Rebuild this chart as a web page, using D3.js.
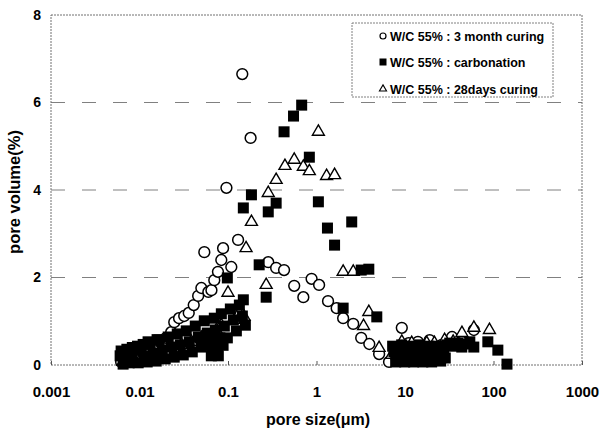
<!DOCTYPE html>
<html>
<head>
<meta charset="utf-8">
<script src="https://cdn.jsdelivr.net/npm/d3@7"></script>
<style>
  html, body { margin: 0; padding: 0; background: #fff; }
  svg { display: block; font-family: "Liberation Sans", Arial, sans-serif; }
</style>
</head>
<body>
<svg id="chart" width="602" height="434"></svg>
<script>
// Differential pore volume (%) against pore size (µm), one [size, volume] pair per reading
const curing3Month = [
  [0.0062, 0.07], [0.0071, 0.11], [0.0081, 0.16], [0.0094, 0.21], [0.011, 0.27],
  [0.0128, 0.34], [0.015, 0.41], [0.0176, 0.50], [0.020, 0.62], [0.0228, 0.75],
  [0.0247, 0.98], [0.028, 1.07], [0.032, 1.12], [0.036, 1.19], [0.041, 1.37],
  [0.046, 1.58], [0.050, 1.76], [0.054, 2.58], [0.060, 1.67], [0.065, 1.71],
  [0.070, 1.94], [0.077, 2.13], [0.084, 2.40], [0.088, 2.67], [0.096, 4.05],
  [0.109, 2.24], [0.130, 2.86], [0.145, 6.65], [0.180, 5.19], [0.285, 2.35],
  [0.35, 2.22], [0.43, 2.17], [0.56, 1.81], [0.71, 1.55], [0.88, 1.97],
  [1.07, 1.83], [1.35, 1.46], [1.69, 1.30], [2.0, 1.07], [2.6, 0.94],
  [3.2, 0.62], [3.95, 0.48], [5.1, 0.25], [6.6, 0.07], [8.0, 0.16],
  [9.2, 0.85], [11, 0.50], [12.5, 0.30], [14, 0.53], [19, 0.57],
  [23, 0.34], [26, 0.46], [34, 0.64], [44, 0.53], [60, 0.80]
];

const carbonation = [
  [0.00604, 0.21], [0.0062, 0.32], [0.00653, 0.02], [0.00707, 0.25], [0.0072, 0.36],
  [0.00764, 0.05], [0.00826, 0.16], [0.0083, 0.40], [0.00893, 0.34], [0.0095, 0.43],
  [0.00966, 0.05], [0.01044, 0.41], [0.0110, 0.47], [0.01129, 0.21], [0.01221, 0.07],
  [0.0125, 0.53], [0.01321, 0.48], [0.01428, 0.27], [0.01544, 0.09], [0.0158, 0.58],
  [0.01670, 0.57], [0.01806, 0.34], [0.01953, 0.14], [0.02111, 0.64], [0.02283, 0.41],
  [0.02469, 0.18], [0.02670, 0.71], [0.02887, 0.46], [0.03122, 0.23], [0.03376, 0.78],
  [0.03650, 0.53], [0.03947, 0.30], [0.04268, 0.89], [0.04615, 0.64], [0.04990, 0.41],
  [0.05396, 1.01], [0.0570, 0.50], [0.05835, 0.73], [0.0620, 0.62], [0.06146, 0.46],
  [0.0660, 0.40], [0.06478, 0.21], [0.07004, 1.07], [0.0720, 0.80], [0.07379, 0.57],
  [0.0760, 0.40], [0.07775, 0.21], [0.0810, 0.62], [0.08407, 1.17], [0.0880, 0.45],
  [0.09091, 0.89], [0.09829, 0.62], [0.0983, 1.99], [0.1063, 1.28], [0.1149, 1.03],
  [0.1243, 0.78], [0.1344, 1.37], [0.1453, 1.12], [0.149, 1.49], [0.1571, 0.91],
  [0.149, 3.59], [0.184, 3.89], [0.225, 2.29], [0.27, 1.55],
  [0.285, 3.50], [0.35, 3.70], [0.43, 5.33], [0.55, 5.69], [0.68, 5.94],
  [0.83, 4.75], [1.05, 3.73], [1.33, 3.13], [1.6, 2.74], [2.0, 1.30],
  [2.5, 3.27], [3.2, 2.17], [3.9, 2.19], [4.8, 1.10],
  [7.25, 0.43], [7.5, 0.30], [7.84, 0.07], [8.2, 0.16], [8.48, 0.25],
  [8.8, 0.38], [9.17, 0.46], [9.5, 0.18], [9.92, 0.07], [10.3, 0.36],
  [10.7, 0.27], [11.1, 0.16], [11.6, 0.43], [12.0, 0.30], [12.5, 0.07],
  [13.0, 0.18], [13.6, 0.25], [14.1, 0.36], [14.7, 0.46], [15.3, 0.16],
  [15.9, 0.07], [16.5, 0.38], [17.1, 0.27], [17.8, 0.16], [18.5, 0.43],
  [19.2, 0.30], [20.0, 0.07], [20.8, 0.18], [21.7, 0.25], [22.5, 0.36],
  [23.4, 0.43], [24.3, 0.18], [25.3, 0.09], [26.3, 0.40], [27.4, 0.30],
  [28.5, 0.16], [29.6, 0.46], [32.0, 0.50], [35.6, 0.43], [39.5, 0.50],
  [43.8, 0.41], [48.6, 0.48], [54.0, 0.53], [59.9, 0.41], [86.3, 0.53],
  [112, 0.34], [142, 0.02]
];

const curing28Days = [
  [0.0065, 0.07], [0.0081, 0.11], [0.0105, 0.16], [0.0136, 0.23], [0.0176, 0.30],
  [0.0228, 0.39], [0.0296, 0.46], [0.0385, 0.53], [0.050, 0.62], [0.065, 0.69],
  [0.074, 0.80], [0.084, 0.91], [0.100, 1.65], [0.118, 1.03], [0.134, 1.19],
  [0.152, 1.10], [0.160, 2.67], [0.184, 3.27], [0.27, 1.83], [0.285, 3.93],
  [0.35, 4.23], [0.44, 4.55], [0.56, 4.69], [0.71, 4.53], [0.83, 4.43],
  [1.05, 5.33], [1.3, 4.32], [1.6, 4.34], [2.0, 2.13], [2.6, 2.13],
  [3.4, 0.89], [3.9, 1.21], [5.1, 0.39], [7.1, 0.23], [9.2, 0.53],
  [11.9, 0.50], [14.8, 0.39], [17.6, 0.50], [21.5, 0.50], [28, 0.57],
  [35, 0.53], [44, 0.73], [60, 0.85], [90, 0.80]
];

const xTicks = [0.001, 0.01, 0.1, 1, 10, 100, 1000];
const xTickLabels = ["0.001", "0.01", "0.1", "1", "10", "100", "1000"];
const yTicks = [0, 2, 4, 6, 8];
const yGridValues = [2, 4, 6];
const legendLabels = [
  "W/C 55% : 3 month curing",
  "W/C 55% : carbonation",
  "W/C 55% : 28days curing"
];

const svg = d3.select("#chart");
const plot = { left: 51, right: 582, top: 15, bottom: 365 };

const x = d3.scaleLog().domain([0.001, 1000]).range([plot.left, plot.right]);
const y = d3.scaleLinear().domain([0, 8]).range([plot.bottom, plot.top]);

// dashed horizontal gridlines
svg.append("g")
  .selectAll("line")
  .data(yGridValues)
  .join("line")
  .attr("x1", plot.left).attr("x2", plot.right)
  .attr("y1", d => y(d)).attr("y2", d => y(d))
  .attr("stroke", "#808080")
  .attr("stroke-width", 1)
  .attr("stroke-dasharray", "14,17");

// plot frame (dotted)
svg.append("rect")
  .attr("x", plot.left).attr("y", plot.top)
  .attr("width", plot.right - plot.left)
  .attr("height", plot.bottom - plot.top)
  .attr("fill", "none")
  .attr("stroke", "#707070")
  .attr("stroke-width", 1)
  .attr("stroke-dasharray", "2,1");

// x axis: inward ticks, labels below
const xAxis = svg.append("g")
  .attr("transform", `translate(0,${plot.bottom})`)
  .call(d3.axisBottom(x)
    .tickValues(xTicks)
    .tickFormat((d, i) => xTickLabels[i])
    .tickSize(-4)
    .tickPadding(21));
xAxis.select(".domain").remove();
xAxis.selectAll(".tick line").attr("stroke", "#555");
xAxis.selectAll(".tick text")
  .attr("fill", "#000")
  .style("font-size", "15px")
  .style("font-weight", "bold")
  .style("font-family", "'Liberation Sans', Arial, sans-serif");

// y axis
const yAxis = svg.append("g")
  .attr("transform", `translate(${plot.left},0)`)
  .call(d3.axisLeft(y)
    .tickValues(yTicks)
    .tickFormat(d3.format("d"))
    .tickSize(0)
    .tickPadding(10));
yAxis.select(".domain").remove();
yAxis.selectAll(".tick text")
  .attr("fill", "#000")
  .style("font-size", "14px")
  .style("font-weight", "bold")
  .style("font-family", "'Liberation Sans', Arial, sans-serif");

// axis titles
svg.append("text")
  .attr("x", 318).attr("y", 425)
  .attr("text-anchor", "middle")
  .style("font-size", "16px")
  .style("font-weight", "bold")
  .text("pore size(μm)");

svg.append("text")
  .attr("transform", "translate(20,192) rotate(-90)")
  .attr("text-anchor", "middle")
  .style("font-size", "16.5px")
  .style("font-weight", "bold")
  .text("pore volume(%)");

// data markers: open circles and triangles first, filled squares on top
const marks = svg.append("g");

marks.append("g")
  .selectAll("circle")
  .data(curing3Month)
  .join("circle")
  .attr("cx", d => x(d[0]))
  .attr("cy", d => y(d[1]))
  .attr("r", 5.4)
  .attr("fill", "#fff")
  .attr("stroke", "#000")
  .attr("stroke-width", 1.5);

const tri = d3.symbol().type(d3.symbolTriangle).size(62);
marks.append("g")
  .selectAll("path")
  .data(curing28Days)
  .join("path")
  .attr("transform", d => `translate(${x(d[0])},${y(d[1])})`)
  .attr("d", tri)
  .attr("fill", "#fff")
  .attr("stroke", "#000")
  .attr("stroke-width", 1.4);

const sq = 11;
marks.append("g")
  .selectAll("rect")
  .data(carbonation)
  .join("rect")
  .attr("x", d => x(d[0]) - sq / 2)
  .attr("y", d => y(d[1]) - sq / 2)
  .attr("width", sq).attr("height", sq)
  .attr("fill", "#000");

// legend
const legend = svg.append("g");
legend.append("rect")
  .attr("x", 352).attr("y", 23)
  .attr("width", 201).attr("height", 74)
  .attr("fill", "#fff")
  .attr("stroke", "#808080")
  .attr("stroke-width", 1)
  .attr("stroke-dasharray", "2,1");

const rowY = [36, 62, 89];
const symX = 383;
legend.append("circle")
  .attr("cx", symX).attr("cy", rowY[0]).attr("r", 3)
  .attr("fill", "#fff").attr("stroke", "#000").attr("stroke-width", 1.2);
legend.append("rect")
  .attr("x", symX - 3.5).attr("y", rowY[1] - 3.5)
  .attr("width", 7).attr("height", 7).attr("fill", "#000");
legend.append("path")
  .attr("transform", `translate(${symX},${rowY[2]})`)
  .attr("d", d3.symbol().type(d3.symbolTriangle).size(22))
  .attr("fill", "#fff").attr("stroke", "#000").attr("stroke-width", 1.1);

legend.selectAll("text.lbl")
  .data(legendLabels)
  .join("text")
  .attr("class", "lbl")
  .attr("x", 390)
  .attr("y", (d, i) => rowY[i] + 4.5)
  .style("font-size", "12.5px")
  .style("font-weight", "bold")
  .text(d => d);
</script>
</body>
</html>
